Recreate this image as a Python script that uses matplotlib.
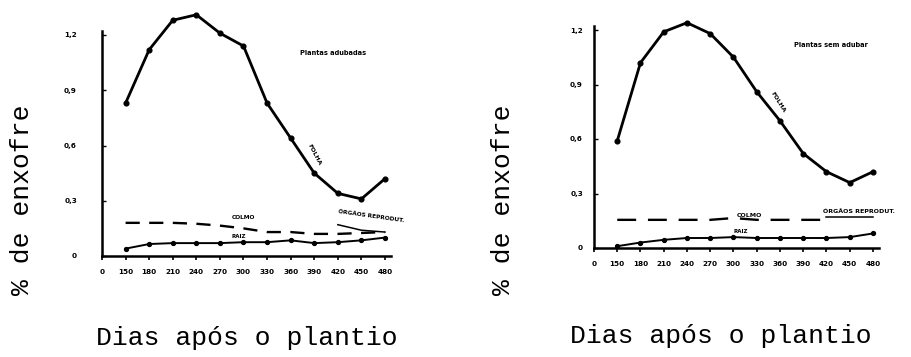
import matplotlib
matplotlib.use("Agg")
import matplotlib.pyplot as plt
import numpy as np

# ---------------- data ----------------
x_tick_labels = ['0', '150', '180', '210', '240', '270', '300', '330', '360', '390', '420', '450', '480']
y_ticks = [0, 0.3, 0.6, 0.9, 1.2]
y_tick_labels = ['0', '0,3', '0,6', '0,9', '1,2']
days = [150, 180, 210, 240, 270, 300, 330, 360, 390, 420, 450, 480]

# left panel: Plantas adubadas
left_folha = [0.83, 1.12, 1.28, 1.31, 1.21, 1.14, 0.83, 0.64, 0.45, 0.34, 0.31, 0.42]
left_colmo = [0.18, 0.18, 0.18, 0.175, 0.165, 0.15, 0.13, 0.13, 0.12, 0.12, 0.125, 0.13]
left_raiz = [0.04, 0.065, 0.07, 0.07, 0.07, 0.075, 0.075, 0.085, 0.07, 0.075, 0.085, 0.10]
left_orgaos_days = [420, 450, 480]
left_orgaos = [0.17, 0.14, 0.13]

# right panel: Plantas sem adubar
right_folha = [0.59, 1.02, 1.19, 1.24, 1.18, 1.05, 0.86, 0.70, 0.52, 0.42, 0.36, 0.42]
right_colmo = [0.155, 0.155, 0.155, 0.155, 0.155, 0.165, 0.155, 0.155, 0.155, 0.155]
right_colmo_days = [150, 180, 210, 240, 270, 300, 330, 360, 390, 420]
right_raiz = [0.01, 0.03, 0.045, 0.055, 0.055, 0.06, 0.055, 0.055, 0.055, 0.055, 0.06, 0.08]
right_orgaos_days = [420, 450, 480]
right_orgaos = [0.17, 0.17, 0.17]

all_days = [0] + days


def pos(d):
    return [all_days.index(v) for v in d]


fig = plt.figure(figsize=(9.12, 3.57), dpi=100)
W, H = 912, 357

mono = 'Liberation Mono'


def make_axes(x0, x12, y0, y12):
    sx = (x12 - x0) / 12.0
    sy = (y0 - y12) / 1.2
    xmax = 12.25
    ymax = 1.22
    ax = fig.add_axes([x0 / W, (H - y0) / H, xmax * sx / W, ymax * sy / H])
    ax.set_xlim(0, xmax)
    ax.set_ylim(0, ymax)
    for s in ['top', 'right']:
        ax.spines[s].set_visible(False)
    for s in ['left', 'bottom']:
        ax.spines[s].set_linewidth(1.8)
    ax.set_xticks(range(13))
    ax.set_xticklabels(x_tick_labels, fontsize=5.2, fontweight='bold')
    ax.set_yticks(y_ticks)
    ax.set_yticklabels(y_tick_labels, fontsize=5.2, fontweight='bold')
    ax.tick_params(axis='x', direction='out', length=3, width=1.2, pad=6)
    ax.tick_params(axis='y', direction='in', length=3, width=1.0, pad=14)
    ax.patch.set_alpha(0)
    return ax


def draw(ax, folha, colmo_days, colmo, raiz, org_days, org, colmo_style):
    ax.plot(pos(days), folha, color='black', lw=2.0, marker='o', ms=3.4, clip_on=False)
    ax.plot(pos(colmo_days), colmo, color='black', lw=1.7, linestyle=colmo_style, clip_on=False)
    ax.plot(pos(days), raiz, color='black', lw=1.4, marker='o', ms=2.8, clip_on=False)
    ax.plot(pos(org_days), org, color='black', lw=1.1, clip_on=False)


# left
axL = make_axes(102, 385, 256, 35)
axL.tick_params(axis='y', pad=18)
draw(axL, left_folha, days, left_colmo, left_raiz, left_orgaos_days, left_orgaos, (0, (6, 4)))
axL.text(9.0, 0.55, 'FOLHA', fontsize=4.5, fontweight='bold', rotation=-62, ha='center', va='center')
axL.text(6.0, 0.21, 'COLMO', fontsize=4.2, fontweight='bold', ha='center', va='center')
axL.text(5.8, 0.105, 'RAIZ', fontsize=4.0, fontweight='bold', ha='center', va='center')
axL.text(11.4, 0.215, 'ÓRGÃOS REPRODUT.', fontsize=4.2, fontweight='bold', rotation=-8, ha='center', va='center')
axL.text(9.8, 1.10, 'Plantas adubadas', fontsize=4.8, fontweight='bold', ha='center', va='center')

# right
axR = make_axes(594, 873, 248, 30)
axR.tick_params(axis='y', pad=8)
draw(axR, right_folha, right_colmo_days, right_colmo, right_raiz, right_orgaos_days, right_orgaos, (0, (8, 5)))
axR.text(7.9, 0.80, 'FOLHA', fontsize=4.5, fontweight='bold', rotation=-58, ha='center', va='center')
axR.text(6.7, 0.18, 'COLMO', fontsize=4.5, fontweight='bold', ha='center', va='center')
axR.text(6.3, 0.09, 'RAIZ', fontsize=4.0, fontweight='bold', ha='center', va='center')
axR.text(11.4, 0.20, 'ÓRGÃOS REPRODUT.', fontsize=4.5, fontweight='bold', ha='center', va='center')
axR.text(10.2, 1.12, 'Plantas sem adubar', fontsize=4.8, fontweight='bold', ha='center', va='center')

# axis titles (typewriter font)
fig.text(22 / W, 1 - 200 / H, '% de enxofre', family=mono, fontsize=19, rotation=90, ha='center', va='center')
fig.text(503 / W, 1 - 200 / H, '% de enxofre', family=mono, fontsize=19, rotation=90, ha='center', va='center')
fig.text(247 / W, 1 - 338 / H, 'Dias após o plantio', family=mono, fontsize=19, ha='center', va='center')
fig.text(721 / W, 1 - 336 / H, 'Dias após o plantio', family=mono, fontsize=19, ha='center', va='center')

fig.savefig('out.png', dpi=100, facecolor='white')
